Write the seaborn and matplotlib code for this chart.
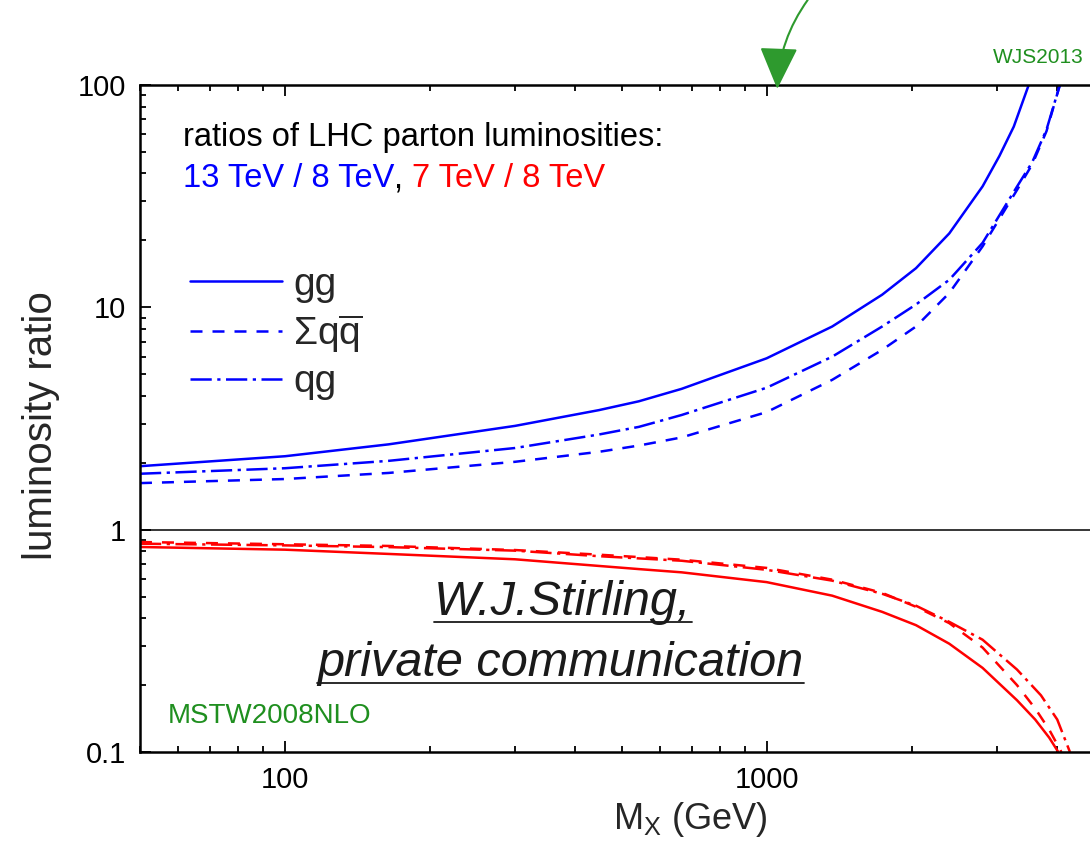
import numpy as np
import pandas as pd
import seaborn as sns
import matplotlib.pyplot as plt
from matplotlib.ticker import FixedLocator, LogLocator, NullFormatter, FuncFormatter

## luminosity ratios, M_X in GeV
# 13 TeV / 8 TeV
mx_gg_13 = [50, 100, 164, 300, 448, 542, 665, 998, 1365, 1733, 2037, 2388, 2800, 3035, 3250, 3490]
r_gg_13 = [1.93, 2.14, 2.42, 2.93, 3.45, 3.78, 4.3, 5.9, 8.2, 11.4, 15.0, 21.5, 35.0, 48.0, 65.0, 100.0]

mx_qq_13 = [50, 100, 164, 300, 448, 542, 665, 998, 1365, 1733, 2037, 2388, 2800, 3300, 3550, 3800, 4050]
r_qq_13 = [1.62, 1.69, 1.80, 2.02, 2.24, 2.39, 2.60, 3.38, 4.72, 6.44, 8.2, 11.6, 18.8, 33.7, 44.0, 62.0, 100.0]

mx_qg_13 = [50, 100, 164, 300, 448, 542, 665, 998, 1365, 1733, 2037, 2388, 2800, 3300, 3550, 3800, 4050]
r_qg_13 = [1.785, 1.89, 2.04, 2.33, 2.68, 2.9, 3.28, 4.35, 6.0, 8.2, 10.3, 13.3, 19.5, 34.9, 45.0, 63.0, 100.0]

# 7 TeV / 8 TeV
mx_gg_7 = [50, 100, 164, 300, 448, 542, 665, 998, 1365, 1733, 2037, 2388, 2800, 3300, 3600, 3850, 4020]
r_gg_7 = [0.836, 0.813, 0.778, 0.736, 0.687, 0.665, 0.643, 0.581, 0.505, 0.427, 0.372, 0.307, 0.239,
          0.171, 0.140, 0.116, 0.1]

mx_qq_7 = [50, 100, 164, 300, 448, 665, 998, 1365, 1733, 2037, 2388, 2800, 3300, 3600, 3850, 4080]
r_qq_7 = [0.88, 0.86, 0.845, 0.81, 0.772, 0.733, 0.673, 0.596, 0.52, 0.45, 0.38, 0.295, 0.2, 0.157,
          0.126, 0.1]

mx_qg_7 = [50, 100, 164, 300, 448, 665, 998, 1365, 1733, 2037, 2388, 2800, 3300, 3700, 4000, 4250]
r_qg_7 = [0.865, 0.85, 0.835, 0.805, 0.76, 0.725, 0.66, 0.59, 0.515, 0.455, 0.385, 0.32, 0.235, 0.18,
          0.14, 0.1]

legend_labels = ['gg', 'Σq$\\overline{\\mathrm{q}}$', 'qg']

sns.set_theme(style='ticks')
plt.rcParams['font.family'] = ['Liberation Sans', 'DejaVu Sans']
plt.rcParams['mathtext.fontset'] = 'custom'
plt.rcParams['mathtext.rm'] = 'Liberation Sans'
plt.rcParams['mathtext.it'] = 'Liberation Sans'
plt.rcParams['mathtext.bf'] = 'Liberation Sans:bold'

blue = '#0000ff'
red = '#ff0000'
green = '#1f8f1f'
dash = (0, (4.8, 4.0))
dashdot = (0, (8.5, 2.2, 1.3, 2.2))

fig = plt.figure(figsize=(10.9, 8.51), dpi=100)
ax = fig.add_axes([0.1284, 0.1163, 0.8844, 0.7838])
ax.set_xscale('log')
ax.set_yscale('log')

curves = [
    (mx_gg_13, r_gg_13, blue, '-'),
    (mx_qq_13, r_qq_13, blue, dash),
    (mx_qg_13, r_qg_13, blue, dashdot),
    (mx_gg_7, r_gg_7, red, '-'),
    (mx_qq_7, r_qq_7, red, dash),
    (mx_qg_7, r_qg_7, red, dashdot),
]
for mx, r, col, ls in curves:
    df = pd.DataFrame({'mx': mx, 'ratio': r})
    sns.lineplot(data=df, x='mx', y='ratio', color=col, lw=1.8, ls=ls, ax=ax)

ax.axhline(1, color='black', lw=1.1, zorder=1)

ax.set_xlim(50, 5000)
ax.set_ylim(0.1, 100)
ax.xaxis.set_major_locator(FixedLocator([100, 1000]))
ax.xaxis.set_minor_locator(LogLocator(base=10, subs=np.arange(2, 10)))
ax.xaxis.set_minor_formatter(NullFormatter())
ax.yaxis.set_major_locator(FixedLocator([0.1, 1, 10, 100]))
ax.yaxis.set_minor_locator(LogLocator(base=10, subs=np.arange(2, 10)))
ax.yaxis.set_minor_formatter(NullFormatter())
fmt = FuncFormatter(lambda v, p: '{:g}'.format(v))
ax.xaxis.set_major_formatter(fmt)
ax.yaxis.set_major_formatter(fmt)
ax.tick_params(which='both', direction='in', top=True, right=True, width=1.3,
               labelsize=21, colors='black')
ax.tick_params(which='major', length=8, pad=10)
ax.tick_params(which='minor', length=4.3)
for s in ax.spines.values():
    s.set_linewidth(1.8)
    s.set_color('black')

ax.set_xlabel('M$_\\mathrm{X}$ (GeV)', fontsize=26)
ax.set_ylabel('luminosity ratio', fontsize=29)
ax.xaxis.set_label_coords(0.5705, -0.072)
ax.yaxis.set_label_coords(-0.083, 0.49)

# legend for the 13/8 curves
ax.legend(ax.lines[:3], legend_labels, loc='upper left', bbox_to_anchor=(0.0519, 0.727),
          frameon=False, fontsize=28, handlelength=2.37, handletextpad=0.28,
          labelspacing=0.24, borderpad=0, borderaxespad=0)

ax.text(0.0446, 0.9085, 'ratios of LHC parton luminosities:', transform=ax.transAxes,
        fontsize=23.5, color='black', va='baseline')
t1 = ax.text(0.0446, 0.847, '13 TeV / 8 TeV', transform=ax.transAxes,
             fontsize=23.5, color=blue, va='baseline')
t2 = ax.annotate(', ', xy=(1, 0), xycoords=t1, fontsize=23.5, color='black', va='bottom')
ax.annotate('7 TeV / 8 TeV', xy=(1, 0), xycoords=t2, fontsize=23.5, color=red, va='bottom')

ts = ax.text(0.4388, 0.2054, 'W.J.Stirling,', transform=ax.transAxes, fontsize=35,
             style='italic', ha='center', va='baseline', color='#1a1a1a')
tp = ax.text(0.4362, 0.1139, 'private communication', transform=ax.transAxes, fontsize=35,
             style='italic', ha='center', va='baseline', color='#1a1a1a')

ax.text(0.029, 0.054, 'MSTW2008NLO', transform=ax.transAxes, fontsize=20,
        color=green, va='center')
fig.text(0.911, 0.933, 'WJS2013', fontsize=15, color=green, va='center')

ax.annotate('', xy=(1050, 96), xycoords='data', xytext=(0.741, 1.0),
            textcoords='figure fraction', annotation_clip=False,
            arrowprops=dict(arrowstyle='-|>,head_length=2.2,head_width=1.0',
                            color='#2e9a2e', lw=1.5, connectionstyle='arc3,rad=0.15',
                            shrinkA=0, shrinkB=0))

# underline the two italic lines
fig.canvas.draw()
inv = ax.transAxes.inverted()
for t in (ts, tp):
    bb = t.get_window_extent()
    (x0, _), (x1, _) = inv.transform([[bb.x0, bb.y0], [bb.x1, bb.y0]])
    yb = t.get_position()[1] - 0.0105
    ax.plot([x0, x1], [yb, yb], transform=ax.transAxes, color='#1a1a1a', lw=1.3)

plt.savefig('out.png', dpi=100)
